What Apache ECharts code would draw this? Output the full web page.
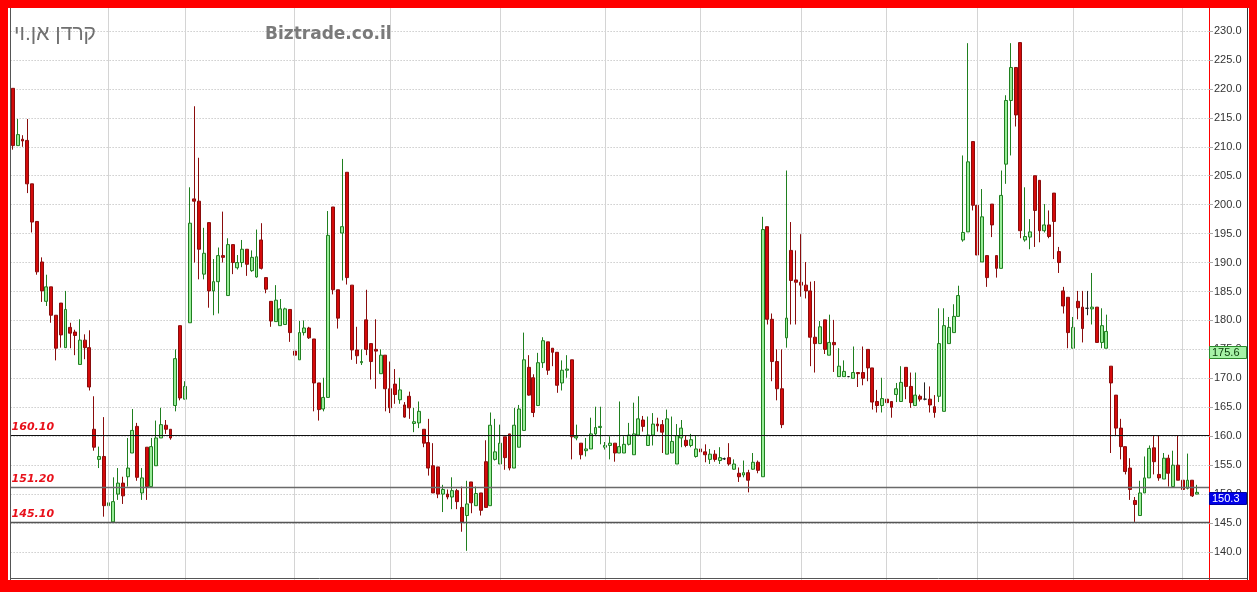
<!DOCTYPE html>
<html><head><meta charset="utf-8">
<script src="https://cdn.jsdelivr.net/npm/echarts@6/dist/echarts.min.js"></script>
<style>html,body{margin:0;padding:0;background:#ff0000}#c{width:1257px;height:592px}</style>
</head><body><div id="c"></div>
<script>
// [open, close, low, high]
const prices = [
[220.1,210.2,209.5,220.1],[210.2,212.1,210.2,214.8],[211.3,211.0,210.0,212.0],[211.1,203.6,202.0,214.8],[203.6,197.0,195.2,203.6],
[197.1,188.4,187.9,197.1],[190.1,185.1,183.2,190.9],[183.3,185.8,182.5,187.9],[185.8,180.9,179.6,185.8],[180.9,175.2,173.1,180.9],
[183.0,177.5,175.3,183.0],[175.3,181.9,175.3,185.1],[178.8,177.8,175.2,179.6],[178.0,177.4,174.0,178.4],[172.4,176.6,172.4,180.2],
[176.6,175.3,173.3,177.6],[175.3,168.5,167.9,178.3],[161.2,158.1,157.5,166.9],[156.0,156.5,154.5,158.2],[156.5,148.0,146.1,163.3],
[148.0,148.5,145.7,154.5],[145.2,148.7,145.2,152.9],[150.0,151.9,149.0,154.5],[151.9,149.7,148.3,153.0],[153.0,154.5,151.3,159.7],
[157.1,161.0,157.1,164.7],[161.7,152.9,152.3,162.3],[150.2,152.8,149.0,154.5],[158.1,151.3,149.0,158.1],[151.3,158.2,151.3,159.7],
[154.9,159.7,154.9,162.7],[159.7,162.0,159.7,164.9],[161.9,161.2,160.4,162.8],[161.2,159.7,159.4,161.2],[165.3,173.4,164.3,175.0],
[179.1,166.6,166.2,179.1],[166.4,168.6,166.4,169.5],[179.6,196.8,179.6,203.0],[201.0,200.6,190.0,217.0],[200.6,192.3,187.1,208.1],
[188.0,191.6,187.1,196.0],[196.9,185.1,182.2,196.9],[185.1,186.7,180.9,190.6],[186.7,191.2,181.2,192.6],[191.2,190.9,190.0,198.8],
[184.3,193.1,184.3,194.2],[193.1,190.0,188.0,193.1],[189.1,190.0,188.8,191.3],[190.0,192.3,189.2,193.9],[192.3,189.7,187.7,192.3],
[188.6,190.9,188.4,192.1],[187.5,191.0,187.4,195.7],[193.9,189.0,188.8,196.8],[187.4,185.4,184.7,187.4],[183.3,179.9,178.9,183.3],
[179.8,183.5,179.8,186.1],[179.1,182.0,179.1,183.7],[179.3,182.0,179.3,182.2],[181.9,177.9,176.3,181.9],[174.7,174.0,173.7,179.6],
[173.2,177.9,173.2,179.9],[177.9,178.7,177.4,180.0],[178.7,177.0,176.8,178.9],[176.8,169.2,164.3,176.8],[169.2,164.6,162.7,169.2],
[164.7,166.7,164.3,170.1],[166.7,194.7,166.7,198.9],[199.6,185.3,184.5,199.6],[185.3,180.4,178.6,185.3],[195.1,196.2,186.9,207.9],
[205.6,187.4,186.2,205.6],[186.1,174.9,173.2,186.1],[174.9,173.9,172.5,178.9],[172.7,172.9,172.3,175.0],[180.1,175.0,174.0,185.3],
[176.0,172.9,169.8,176.0],[175.0,174.7,168.2,180.2],[170.8,174.0,170.8,175.0],[174.0,168.2,164.3,174.0],[168.2,164.9,164.0,172.9],
[169.0,167.2,165.6,171.6],[166.3,168.0,165.6,170.1],[165.4,163.3,163.2,165.9],[166.9,164.9,163.0,167.7],[162.2,162.5,160.7,164.9],
[162.3,164.3,161.4,166.0],[161.2,158.8,158.1,161.2],[158.9,154.5,153.2,163.0],[154.9,150.2,150.2,158.8],[154.7,150.0,149.3,154.7],
[150.0,150.8,146.9,151.6],[150.0,149.5,149.1,150.8],[149.5,150.6,147.4,152.9],[150.6,148.7,147.4,150.9],[147.7,145.2,143.5,151.3],
[146.3,148.3,140.2,152.3],[152.1,148.5,146.7,152.1],[148.0,150.1,148.0,151.3],[150.2,147.2,146.3,150.2],[155.6,147.7,147.6,159.3],
[148.0,161.9,148.0,164.1],[156.0,157.3,155.8,163.0],[155.2,158.8,155.2,162.0],[159.9,156.3,154.2,159.9],[160.4,154.5,154.1,160.4],
[154.5,161.9,154.5,164.9],[158.1,164.7,158.1,165.4],[161.0,173.2,161.0,177.9],[171.9,167.1,167.0,174.0],[170.1,164.1,163.3,170.7],
[165.3,172.7,165.3,174.4],[172.7,176.5,171.8,177.1],[176.3,171.4,170.6,176.3],[175.2,174.5,172.1,175.2],[174.5,168.8,167.5,174.5],
[169.2,171.4,167.9,173.1],[171.4,171.6,170.1,174.0],[173.2,159.9,156.0,173.2],[159.7,160.0,159.3,162.0],[158.8,156.8,156.0,158.8],
[157.5,157.8,156.5,159.7],[157.8,160.4,157.8,163.2],[160.4,161.5,160.1,165.1],[161.5,161.7,158.6,165.1],[158.1,158.4,157.7,159.0],
[158.4,158.8,156.0,160.0],[158.8,157.1,155.6,158.8],[157.1,158.2,157.1,166.0],[157.1,158.6,157.1,160.0],[158.6,160.2,158.4,162.3],
[156.8,160.4,156.8,165.8],[160.2,163.0,160.2,166.9],[162.8,161.7,160.8,163.5],[158.4,160.2,158.4,163.4],[160.2,162.1,158.4,164.0],
[162.1,161.8,160.8,163.2],[162.0,160.7,157.1,162.8],[156.9,163.0,156.9,164.6],[157.1,159.1,157.1,163.4],[155.2,160.1,155.2,162.1],
[159.7,161.4,158.1,162.8],[159.3,158.4,158.1,160.2],[158.4,159.4,158.1,160.4],[156.5,157.8,156.3,160.1],[157.8,157.3,156.2,159.1],
[157.3,156.8,155.5,158.6],[156.0,156.9,155.2,157.8],[156.9,156.0,155.6,157.6],[155.8,156.3,155.2,158.1],[156.1,156.1,155.9,156.3],
[156.3,155.2,154.9,158.8],[154.3,155.2,154.2,156.0],[153.6,153.0,152.1,154.6],[153.3,153.7,152.9,155.8],[153.7,152.4,150.3,154.2],
[154.3,155.5,154.2,157.1],[155.5,154.1,153.6,155.8],[153.0,195.7,153.0,197.9],[196.2,180.2,179.3,196.2],[180.2,172.9,169.5,181.2],
[172.9,168.2,166.2,175.0],[168.2,162.0,161.4,175.0],[177.0,180.4,175.3,205.9],[192.1,186.9,179.3,197.0],[187.0,186.6,179.3,192.1],
[186.6,186.1,184.1,194.9],[186.1,185.1,183.8,190.1],[185.1,177.1,172.1,186.7],[177.1,176.0,171.0,186.8],[176.0,178.9,176.0,179.9],
[180.1,175.0,174.2,180.1],[174.0,176.2,174.0,181.0],[176.2,175.8,171.1,180.1],[170.3,172.1,170.3,175.2],[170.3,171.2,170.3,173.1],
[170.3,170.3,170.2,170.4],[170.0,171.0,170.0,175.5],[171.0,170.8,168.5,171.0],[171.0,170.0,168.8,175.5],[175.0,171.8,169.5,175.0],
[171.8,165.9,164.6,171.8],[166.0,165.3,164.1,168.0],[165.3,166.5,164.1,170.1],[166.4,165.8,163.6,166.4],[166.0,165.0,163.2,166.0],
[167.2,168.2,165.9,169.2],[166.0,169.3,166.0,172.1],[171.9,168.6,166.4,171.9],[168.6,165.8,164.9,171.0],[165.3,167.1,165.3,171.0],
[166.9,166.4,166.0,167.2],[166.4,166.4,166.2,169.3],[166.4,165.4,164.1,168.6],[165.1,164.1,163.2,167.1],[166.9,176.0,165.9,182.1],
[164.3,179.1,164.3,182.1],[176.0,178.8,176.0,180.6],[177.9,180.7,177.9,182.8],[180.7,184.3,180.7,186.0],[193.9,195.2,193.6,208.5],
[195.3,207.4,195.3,227.9],[210.9,199.9,199.0,210.9],[199.9,191.3,190.1,199.9],[190.1,197.9,190.1,202.7],[191.2,187.4,185.8,191.2],
[200.1,196.5,194.4,200.1],[191.2,189.0,187.4,191.2],[189.0,201.6,189.0,205.9],[207.0,218.0,203.6,218.9],[218.0,223.7,208.5,227.9],
[223.7,215.5,213.5,223.7],[228.0,195.5,194.2,228.0],[193.9,194.5,193.6,203.0],[194.4,195.3,192.3,197.5],[205.0,199.0,192.7,205.0],
[204.2,195.5,193.5,204.2],[195.5,196.5,195.2,200.1],[196.5,194.5,194.2,199.0],[202.0,197.1,190.6,202.0],[191.9,190.0,188.2,192.7],
[185.1,182.5,181.2,185.8],[184.0,177.9,175.2,184.0],[175.2,178.8,175.2,180.6],[183.3,182.2,180.2,185.1],[182.3,178.6,176.2,185.1],
[182.1,182.1,180.9,185.1],[182.0,182.3,179.3,188.2],[182.3,176.2,176.2,182.3],[176.2,179.1,175.2,182.1],[175.2,178.1,175.2,181.0],
[172.1,169.2,157.1,172.1],[167.1,161.4,160.2,167.1],[161.4,158.2,156.0,163.0],[158.2,153.9,153.4,158.2],[154.5,150.8,149.0,156.2],
[148.9,148.2,145.2,149.5],[146.3,150.2,146.3,152.3],[150.2,152.8,150.2,156.5],[152.8,157.9,152.8,158.4],[158.0,155.6,153.4,160.2],
[153.4,152.8,152.3,160.2],[152.6,156.2,152.6,157.1],[156.2,153.6,151.3,156.8],[151.3,155.0,151.3,157.5],[155.0,152.4,152.4,160.2],
[152.4,150.8,150.6,156.7],[151.0,152.4,150.8,157.0],[152.4,149.7,149.5,152.4],[150.0,150.3,150.0,151.6]
];
const emptySlots = 2;
const categories = [];
for (let i = 0; i < prices.length + emptySlots; i++) categories.push('D' + (i + 1));
const monthStartIdx = [20, 36, 59, 79, 102, 124, 144, 165, 183, 202, 222, 245];
const levelValues = [160.1, 151.2, 145.1];
const levelLabels = ['160.10', '151.20', '145.10'];
const levelColors = ['#111111', '#6a6a6a', '#555555'];
const tagValues = [175.6, 150.3];
const tagLabels = ['175.6', '150.3'];
const yMin = 135, yMax = 235, yStep = 5;

const chart = echarts.init(document.getElementById('c'), null, {renderer: 'canvas'});

const frame = [
  {id:'bgTop', type:'rect', z:100, silent:true, shape:{x:0,y:0,width:1257,height:8}, style:{fill:'#ff0000'}},
  {id:'bgLeft', type:'rect', z:100, silent:true, shape:{x:0,y:0,width:8,height:592}, style:{fill:'#ff0000'}},
  {id:'bgRight', type:'rect', z:100, silent:true, shape:{x:1249,y:0,width:8,height:592}, style:{fill:'#ff0000'}},
  {id:'bgBottom', type:'rect', z:100, silent:true, shape:{x:0,y:580,width:1257,height:12}, style:{fill:'#ff0000'}},
  {id:'lnLeft', type:'line', z:101, silent:true, shape:{x1:10.5,y1:8,x2:10.5,y2:580}, style:{stroke:'#555',lineWidth:1}},
  {id:'lnBottom', type:'line', z:101, silent:true, shape:{x1:10,y1:578.5,x2:1248,y2:578.5}, style:{stroke:'#555',lineWidth:1}},
  {id:'lnRight', type:'line', z:101, silent:true, shape:{x1:1247.5,y1:8,x2:1247.5,y2:580}, style:{stroke:'#333',lineWidth:1}},
  {id:'tName', type:'text', z:101, silent:true, x:96, y:34, style:{text:'קרדן אן.וי', font:'21px "Liberation Sans"', fill:'#707070', align:'right', verticalAlign:'middle'}},
  {id:'tSite', type:'text', z:101, silent:true, x:265, y:35, style:{text:'Biztrade.co.il', font:'bold 17px "DejaVu Sans"', fill:'#7a7a7a', align:'left', verticalAlign:'middle'}}
];

const option = {
  animation: false,
  backgroundColor: '#ffffff',
  grid: {left: 10.6, right: 48, top: 2.06, bottom: 11.06, containLabel: false},
  xAxis: {
    type: 'category', data: categories, boundaryGap: true,
    axisLine: {show: false}, axisTick: {show: false}, axisLabel: {show: false}, splitLine: {show: false}
  },
  yAxis: {
    type: 'value', position: 'right', min: yMin, max: yMax, interval: yStep, scale: true,
    axisLine: {show: true, lineStyle: {color: '#ff0000', width: 1}},
    axisTick: {show: true, length: 4, lineStyle: {color: '#aaaaaa'}},
    axisLabel: {
      margin: 5, fontSize: 11, fontFamily: 'Liberation Sans', color: '#333',
      formatter: v => (v <= yMin || v >= yMax) ? '' : v.toFixed(1)
    },
    splitLine: {show: true, lineStyle: {color: '#b4b4b4', type: [1, 2], width: 1}}
  },
  series: [
    {
      type: 'line', data: [], z: 1, silent: true,
      markLine: {
        silent: true, symbol: 'none', animation: false,
        label: {show: false},
        lineStyle: {color: '#d4d4d4', type: 'solid', width: 1},
        data: monthStartIdx.map(i => ({xAxis: categories[i]}))
      }
    },
    {
      type: 'candlestick', z: 3, barWidth: 3.4,
      data: prices,
      itemStyle: {
        color: '#98ec98', color0: '#d40a0a',
        borderColor: '#1f7f1f', borderColor0: '#8a0c0c', borderColorDoji: '#222222',
        borderWidth: 1
      },
      markLine: {
        silent: true, symbol: 'none', animation: false,
        data: levelValues.map((v, i) => ({
          yAxis: v, name: levelLabels[i],
          lineStyle: {color: levelColors[i], type: 'solid', width: i === 0 ? 1 : 1.4},
          label: {
            show: true, position: 'insideStartTop', formatter: '{b}', distance: [1, 3],
            color: '#e8101a', fontStyle: 'italic', fontWeight: 'bold', fontSize: 11, fontFamily: 'DejaVu Sans'
          }
        }))
      }
    }
  ],
  graphic: {elements: frame}
};
chart.setOption(option);

const tagStyles = [
  {fill: '#a6f2a6', stroke: '#2a8a2a', text: '#0a3a0a'},
  {fill: '#0000e8', stroke: '#0000a0', text: '#ffffff'}
];
const tagEls = [];
tagValues.forEach((v, i) => {
  const y = chart.convertToPixel({yAxisIndex: 0}, v);
  tagEls.push({id: 'tagR' + i, type: 'rect', z: 110, silent: true,
    shape: {x: 1209.5, y: Math.round(y) + 0.5, width: 37, height: 12},
    style: {fill: tagStyles[i].fill, stroke: tagStyles[i].stroke, lineWidth: 1}});
  tagEls.push({id: 'tagT' + i, type: 'text', z: 111, silent: true,
    x: 1212, y: Math.round(y) + 7,
    style: {text: tagLabels[i], font: '11px "Liberation Sans"', fill: tagStyles[i].text, align: 'left', verticalAlign: 'middle'}});
});
chart.setOption({graphic: {elements: frame.concat(tagEls)}});
</script>
</body></html>
